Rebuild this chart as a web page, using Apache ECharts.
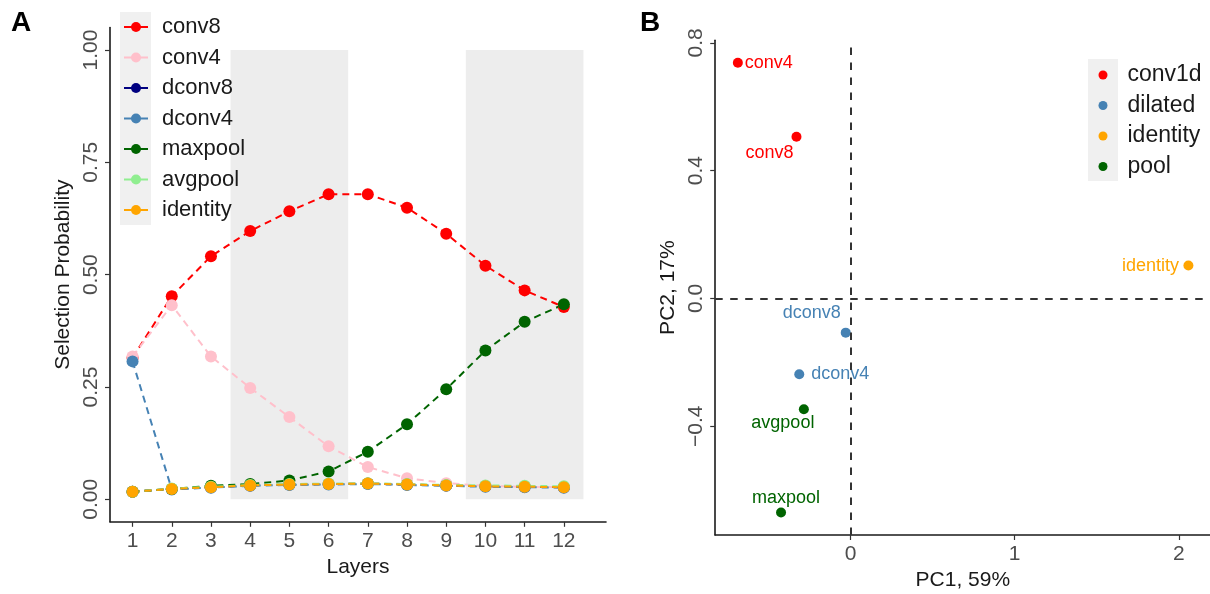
<!DOCTYPE html>
<html>
<head>
<meta charset="utf-8">
<script src="https://cdn.jsdelivr.net/npm/echarts@6/dist/echarts.min.js"></script>
<style>html,body{margin:0;padding:0;background:#fff}#chart{width:1210px;height:594px}</style>
</head>
<body>
<div id="chart"></div>
<script>
// ---------- Panel A data ----------
const layers = [1, 2, 3, 4, 5, 6, 7, 8, 9, 10, 11, 12];
const conv8    = [0.315, 0.452, 0.541, 0.597, 0.641, 0.679, 0.679, 0.649, 0.591, 0.520, 0.465, 0.428];
const conv4    = [0.318, 0.432, 0.318, 0.248, 0.183, 0.118, 0.072, 0.047, 0.036, 0.030, 0.028, 0.027];
const dconv8   = [0.017, 0.023, 0.027, 0.031, 0.033, 0.034, 0.035, 0.033, 0.031, 0.029, 0.028, 0.027];
const dconv4   = [0.307, 0.022, 0.026, 0.030, 0.032, 0.033, 0.034, 0.032, 0.030, 0.028, 0.027, 0.026];
const maxpool  = [0.017, 0.023, 0.030, 0.034, 0.042, 0.062, 0.106, 0.167, 0.245, 0.331, 0.395, 0.434];
const avgpool  = [0.017, 0.024, 0.028, 0.032, 0.034, 0.035, 0.036, 0.034, 0.032, 0.031, 0.030, 0.029];
const identity = [0.017, 0.023, 0.027, 0.031, 0.033, 0.034, 0.035, 0.033, 0.031, 0.029, 0.028, 0.027];
const opNames  = ['conv8', 'conv4', 'dconv8', 'dconv4', 'maxpool', 'avgpool', 'identity'];
const opValues = [conv8, conv4, dconv8, dconv4, maxpool, avgpool, identity];
const shadedRanges = [[3.5, 6.5], [9.5, 12.5]];
const yTicksA = [0, 0.25, 0.5, 0.75, 1];

// ---------- Panel B data ----------
const pcaNames  = ['conv4', 'conv8', 'identity', 'dconv8', 'dconv4', 'avgpool', 'maxpool'];
const pcaGroups = ['conv1d', 'conv1d', 'identity', 'dilated', 'dilated', 'pool', 'pool'];
const pc1 = [-0.686, -0.329, 2.058, -0.029, -0.312, -0.284, -0.423];
const pc2 = [0.738, 0.506, 0.103, -0.107, -0.237, -0.347, -0.670];
const groupNames = ['conv1d', 'dilated', 'identity', 'pool'];
const xTicksB = [0, 1, 2];
const yTicksB = [-0.4, 0, 0.4, 0.8];

// ---------- styles ----------
const FONT = 'Liberation Sans';
const opColors = {conv8:'#FF0000', conv4:'#FFC0CB', dconv8:'#000080', dconv4:'#4682B4',
                  maxpool:'#006400', avgpool:'#90EE90', identity:'#FFA500'};
const groupColors = {conv1d:'#FF0000', dilated:'#4682B4', identity:'#FFA500', pool:'#006400'};
const labelOffsets = {conv4:[31, 0], conv8:[-27, 16], identity:[-38, 0], dconv8:[-34, -20],
                      dconv4:[41, 0], avgpool:[-21, 14], maxpool:[5, -14]};
const tickLabelColor = '#4D4D4D';
const axisLineStyle = {color:'#1a1a1a', width:1.6};
const axisTickStyle = {length:5, lineStyle:{color:'#333', width:1.2}};

const series = [];
// shaded background rectangles (panel A)
series.push({
  type:'custom', xAxisIndex:0, yAxisIndex:0, z:1, silent:true,
  data: shadedRanges,
  renderItem: function (params, api) {
    const p0 = api.coord([api.value(0), 1]);
    const p1 = api.coord([api.value(1), 0]);
    return {type:'rect', shape:{x:p0[0], y:p0[1], width:p1[0]-p0[0], height:p1[1]-p0[1]},
            style:{fill:'#EDEDED'}};
  },
  encode:{x:[0,1]}
});
opNames.forEach(function (n, i) {
  series.push({
    name:n, type:'line', xAxisIndex:0, yAxisIndex:0, z:2,
    data: layers.map(function (l, j) { return [l, opValues[i][j]]; }),
    symbol:'circle', symbolSize:12, showSymbol:true,
    lineStyle:{color:opColors[n], width:2, type:[7, 5]},
    itemStyle:{color:opColors[n], borderWidth:0},
    emphasis:{disabled:true}
  });
});
// reference lines (panel B)
series.push({
  type:'line', xAxisIndex:1, yAxisIndex:1, data:[], z:1, silent:true,
  markLine:{silent:true, symbol:['none','none'], label:{show:false},
    lineStyle:{color:'#333', width:2, type:[7.5, 7.5]},
    emphasis:{disabled:true},
    data:[{xAxis:0}, {yAxis:0}]}
});
groupNames.forEach(function (g) {
  const pts = [];
  pcaNames.forEach(function (n, i) {
    if (pcaGroups[i] === g) {
      pts.push({name:n, value:[pc1[i], pc2[i]],
        label:{offset:labelOffsets[n]}});
    }
  });
  series.push({
    name:g, type:'scatter', xAxisIndex:1, yAxisIndex:1, z:3,
    data:pts, symbol:'circle', symbolSize:10,
    itemStyle:{color:groupColors[g], opacity:1},
    label:{show:true, position:'inside', formatter:'{b}', color:groupColors[g],
           fontFamily:FONT, fontSize:18},
    emphasis:{disabled:true}
  });
});

const option = {
  animation:false,
  textStyle:{fontFamily:FONT},
  grid:[
    {left:110, top:27.5, width:496, height:494.3, outerBoundsMode:'none', containLabel:false},
    {left:715.2, top:40.2, width:495.2, height:494.8, outerBoundsMode:'none', containLabel:false}
  ],
  xAxis:[
    {type:'value', gridIndex:0, min:0.425, max:13.075,
     name:'Layers', nameLocation:'middle', nameGap:31,
     nameTextStyle:{color:'#1a1a1a', fontSize:21, fontFamily:FONT},
     splitLine:{show:false},
     axisLine:{show:true, onZero:false, lineStyle:axisLineStyle},
     axisTick:Object.assign({show:true, customValues:layers}, axisTickStyle),
     axisLabel:{customValues:layers, color:tickLabelColor, fontSize:21, fontFamily:FONT, margin:9}},
    {type:'value', gridIndex:1, min:-0.824, max:2.192,
     name:'PC1, 59%', nameLocation:'middle', nameGap:31,
     nameTextStyle:{color:'#1a1a1a', fontSize:21, fontFamily:FONT},
     splitLine:{show:false},
     axisLine:{show:true, onZero:false, lineStyle:axisLineStyle},
     axisTick:Object.assign({show:true, customValues:xTicksB}, axisTickStyle),
     axisLabel:{customValues:xTicksB, color:tickLabelColor, fontSize:21, fontFamily:FONT, margin:9,
       formatter:function (v) { return String(v); }}}
  ],
  yAxis:[
    {type:'value', gridIndex:0, min:-0.05, max:1.05,
     name:'Selection Probability', nameLocation:'middle', nameGap:36,
     nameTextStyle:{color:'#1a1a1a', fontSize:21, fontFamily:FONT},
     splitLine:{show:false},
     axisLine:{show:true, onZero:false, lineStyle:axisLineStyle},
     axisTick:Object.assign({show:true, customValues:yTicksA}, axisTickStyle),
     axisLabel:{customValues:yTicksA, rotate:90, color:tickLabelColor, fontSize:21, fontFamily:FONT, margin:8,
       formatter:function (v) { return v.toFixed(2); }}},
    {type:'value', gridIndex:1, min:-0.7404, max:0.8084,
     name:'PC2, 17%', nameLocation:'middle', nameGap:36,
     nameTextStyle:{color:'#1a1a1a', fontSize:21, fontFamily:FONT},
     splitLine:{show:false},
     axisLine:{show:true, onZero:false, lineStyle:axisLineStyle},
     axisTick:Object.assign({show:true, customValues:yTicksB}, axisTickStyle),
     axisLabel:{customValues:yTicksB, rotate:90, color:tickLabelColor, fontSize:21, fontFamily:FONT, margin:8,
       formatter:function (v) { return (v < 0 ? '\u2212' : '') + Math.abs(v).toFixed(1); }}}
  ],
  legend:[
    {data:opNames, orient:'vertical', left:123, top:12, padding:0, itemGap:0.5,
     itemWidth:24, itemHeight:12.5, selectedMode:false,
     lineStyle:{type:'solid', width:2}, itemStyle:{borderWidth:0},
     textStyle:{fontFamily:FONT, fontSize:22, color:'#1a1a1a', lineHeight:30, padding:[0,0,0,9]}},
    {data:groupNames, orient:'vertical', left:1098.5, top:60, padding:0, itemGap:0.5,
     itemWidth:9, itemHeight:9, icon:'circle', selectedMode:false,
     textStyle:{fontFamily:FONT, fontSize:23, color:'#1a1a1a', lineHeight:30, padding:[0,0,0,15]}}
  ],
  graphic:[
    {type:'rect', z:-1, silent:true, shape:{x:120, y:12, width:31, height:213}, style:{fill:'#F0F0F0'}},
    {type:'rect', z:-1, silent:true, shape:{x:1088, y:59, width:30, height:122}, style:{fill:'#F0F0F0'}},
    {type:'text', left:11, top:9, silent:true,
     style:{text:'A', font:'bold 28px "Liberation Sans"', fill:'#000'}},
    {type:'text', left:640, top:9, silent:true,
     style:{text:'B', font:'bold 28px "Liberation Sans"', fill:'#000'}}
  ],
  series:series
};
const chart = echarts.init(document.getElementById('chart'), null, {renderer:'canvas'});
chart.setOption(option);
</script>
</body>
</html>
